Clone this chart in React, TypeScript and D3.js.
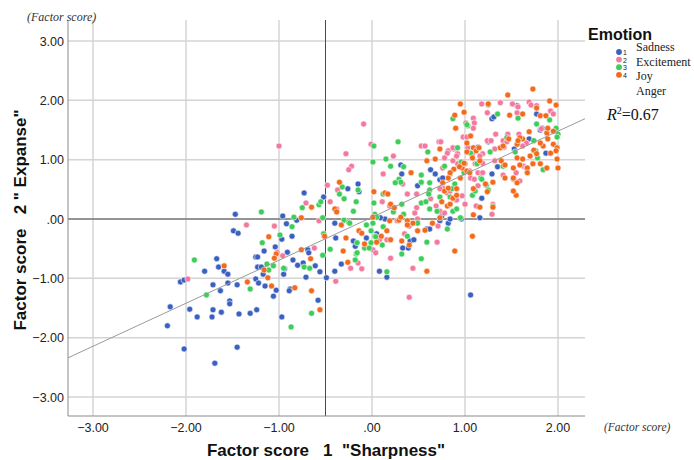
import React from 'react';
import * as d3 from 'd3';

// factor scores [F1 "Sharpness", F2 "Expanse"] per emotion
const sadness: [number, number][] = [
  [-1.47, 0.08], [-1.49, -0.2], [-1.44, -0.24], [-0.96, 0.05], [-0.92, -0.08], [-0.86, -0.29], [-0.81, -0.02],
  [-0.73, 0.44], [-0.52, 0.37], [-0.97, -0.34], [-1.04, -0.47], [-1.16, -0.54], [-1.25, -0.64], [-1.23, -0.64],
  [-1.67, -0.67], [-1.65, -0.81], [-1.8, -0.88], [-1.59, -0.88], [-1.55, -0.93], [-1.23, -0.81], [-1.19, -0.81],
  [-1.17, -0.93], [-0.91, -0.56], [-0.85, -0.69], [-0.8, -0.78], [-0.74, -0.74], [-0.69, -0.52], [-0.68, -0.57],
  [-0.61, -0.79], [-0.56, -0.89], [-0.71, -0.98], [-0.49, -0.99], [-0.95, -0.93], [-0.94, -0.84], [-1.25, -1.01],
  [-1.22, -1.08], [-1.15, -1.13], [-1.03, -1.2], [-1.06, -1.3], [-0.88, -1.18], [-0.89, -1.21], [-2.06, -1.06],
  [-2.02, -1.03], [-1.71, -1.11], [-1.63, -1.21], [-1.55, -1.08], [-1.45, -1.11], [-1.53, -1.38], [-1.53, -1.43],
  [-1.24, -1.53], [-1.31, -1.59], [-1.43, -1.6], [-1.62, -1.57], [-1.71, -1.53], [-1.72, -1.65], [-1.88, -1.65],
  [-1.96, -1.52], [-2.17, -1.48], [-2.2, -1.8], [-2.02, -2.19], [-1.45, -2.16], [-1.69, -2.43], [-0.97, -1.65],
  [-0.58, -1.37], [-0.33, -0.76], [-0.4, -0.88], [-0.4, -0.07], [-0.39, -0.32], [-0.15, 0.59], [-0.14, 0.46],
  [-0.26, 0.51], [-0.18, -0.46], [-0.2, -0.37], [0.08, -0.88], [0.16, -0.98], [0.33, -0.49], [0.39, -0.49],
  [0.59, -0.17], [0.62, -0.17], [0.73, -0.03], [0.82, -0.07], [0.96, 0.0], [0.32, 0.76], [0.31, 0.91],
  [0.63, 0.83], [0.68, 0.76], [0.49, 0.56], [0.41, -0.37], [0.14, 0.0], [0.09, 0.02], [-0.06, -0.32],
  [0.05, -0.25], [0.45, -0.35], [1.29, 1.69], [1.31, 1.72], [1.56, 1.91], [1.77, 1.77], [1.81, 1.5],
  [1.83, 1.53], [1.69, 1.35], [1.53, 1.18], [1.87, 1.11], [1.25, 1.3], [1.14, 1.21], [1.35, 0.88],
  [1.29, 0.76], [1.18, 0.35], [0.73, 0.66], [0.76, 0.69], [1.16, 0.02], [0.84, 0.0], [0.75, 0.05], [1.06, -1.28],
];

const excitement: [number, number][] = [
  [-1.35, -0.1], [-1.05, -0.12], [-1.02, -0.56], [-0.96, -0.62], [-0.62, -0.49], [-0.71, 0.27], [-0.45, 0.29],
  [-0.38, 0.17], [-0.48, 0.57], [-0.37, 0.49], [-0.39, -1.05], [-1.98, -1.01], [-0.57, -0.03], [-1.0, 1.23],
  [-0.01, 1.26], [-0.28, 1.1], [-0.22, 0.89], [-0.25, 0.83], [-0.23, -0.83], [-0.11, -0.84], [0.08, -0.35],
  [0.16, -0.35], [0.2, -0.66], [0.23, 1.06], [0.12, 0.76], [0.53, 1.23], [0.57, 1.23], [0.72, 1.3], [0.82, 1.15],
  [0.88, 1.18], [0.92, 1.1], [0.33, 0.59], [0.48, 0.42], [0.7, -0.39], [0.44, -0.83], [0.38, 0.42], [0.19, 0.22],
  [0.11, 0.29], [0.48, 0.19], [0.46, 0.1], [0.76, 0.52], [0.81, 0.44], [0.63, 0.34], [0.69, 0.22], [0.91, 0.32],
  [0.97, 0.39], [1.0, 0.25], [0.92, 0.93], [0.27, -0.03], [0.4, -0.12], [0.49, 0.0], [-0.09, 1.6], [0.01, -0.52],
  [0.04, -0.57], [0.35, -0.25], [0.4, -1.32], [-0.15, -0.74], [0.71, -0.12], [1.18, 1.94], [1.38, 1.96],
  [1.51, 1.94], [1.69, 1.97], [1.71, 1.92], [1.77, 1.91], [1.09, 1.7], [1.1, 1.62], [1.09, 1.53], [1.56, 1.79],
  [1.01, 1.62], [0.98, 1.38], [1.02, 1.38], [1.33, 1.43], [1.46, 1.43], [1.58, 1.43], [1.24, 1.32], [1.28, 1.32],
  [1.41, 1.32], [1.45, 1.3], [1.66, 1.28], [0.81, 1.11], [0.87, 1.2], [0.87, 0.98], [0.91, 1.06], [1.03, 1.2],
  [1.08, 1.1], [1.19, 1.1], [1.16, 1.06], [1.19, 0.94], [1.11, 0.93], [1.06, 0.69], [1.05, 0.81], [1.32, 0.98],
  [1.52, 0.67], [1.55, 0.78], [1.59, 0.64], [1.41, 0.74], [0.74, 1.3], [0.78, 1.03], [0.76, 0.86], [0.73, 0.51],
  [0.73, 0.13], [1.12, 0.22], [1.3, 0.25], [1.29, 0.08], [0.78, 0.1], [0.84, 0.47], [1.92, 1.82], [1.95, 1.77],
  [1.82, 1.52], [1.62, 1.23], [1.63, 0.89], [1.66, 0.86], [1.24, 1.79], [1.57, 1.89], [1.32, 1.18], [1.42, 1.21],
  [1.14, 0.78], [1.19, 0.78], [1.1, 0.67], [1.14, 0.56],
];

const joy: [number, number][] = [
  [-1.19, 0.12], [-0.84, 0.03], [-0.86, -0.13], [-0.99, -0.27], [-1.18, -0.4], [-1.13, -0.76], [-1.11, -0.86],
  [-1.06, -0.79], [-0.95, -0.83], [-0.73, -0.81], [-0.67, -0.83], [-0.53, -0.61], [-0.45, -0.51], [-0.52, -0.25],
  [-0.53, 0.02], [-0.57, 0.24], [-0.55, 0.29], [-0.75, 0.19], [-0.35, 0.42], [-0.32, 0.54], [-0.3, 0.34],
  [-1.91, -0.69], [-1.78, -1.28], [-1.31, -1.18], [-0.87, -1.82], [-0.65, -1.59], [-0.3, -0.02], [-0.25, -0.05],
  [0.02, 1.23], [0.28, 1.3], [0.01, 0.96], [0.2, 0.89], [0.34, 0.88], [0.29, 0.67], [0.31, 0.62], [0.25, 0.61],
  [0.53, 0.74], [0.53, 0.62], [0.62, 0.61], [0.62, 0.49], [0.61, 0.42], [0.78, 0.89], [0.84, 0.76], [0.92, 1.2],
  [-0.15, 0.49], [-0.17, 0.29], [-0.2, 0.13], [-0.24, -0.07], [0.02, 0.27], [0.03, 0.08], [0.05, 0.03],
  [0.12, 0.42], [0.32, 0.25], [0.34, 0.08], [0.23, 0.12], [0.53, 0.27], [0.58, 0.29], [0.62, 0.17], [0.7, 0.13],
  [0.87, 0.13], [0.91, 0.17], [0.01, -0.07], [-0.06, -0.1], [-0.01, -0.2], [0.12, -0.13], [0.03, -0.29],
  [-0.01, -0.4], [-0.08, -0.49], [-0.16, -0.4], [-0.17, -0.59], [-0.18, -0.69], [-0.03, -0.49], [0.11, -0.44],
  [0.32, -0.59], [0.53, -0.67], [0.59, -0.39], [0.16, -0.89], [0.49, -0.07], [0.81, -0.17], [0.15, 1.01],
  [0.38, -0.29], [0.04, -0.3], [-0.16, -0.57], [1.03, 1.57], [0.6, 1.13], [0.87, 1.69], [1.02, 1.59], [1.25, 1.92],
  [1.35, 1.77], [1.57, 1.7], [1.77, 1.6], [1.91, 1.67], [1.98, 1.53], [2.0, 1.43], [1.99, 1.38], [1.27, 1.13],
  [1.45, 1.37], [1.54, 1.13], [1.74, 1.32], [1.78, 1.03], [1.84, 0.83], [1.41, 0.89], [1.17, 0.69], [0.99, 0.78],
  [0.96, 0.96], [0.89, 0.59], [0.86, 0.51], [1.08, 0.4], [1.25, 0.49], [1.3, 0.22], [0.95, 0.02], [0.84, 0.37],
  [0.73, 0.37], [1.76, 1.15], [1.13, 0.93], [1.18, 0.67], [1.23, 0.57], [1.11, 0.47], [1.06, 1.11],
];

const anger: [number, number][] = [
  [-0.76, 0.02], [-0.65, 0.2], [-1.11, -0.3], [-1.03, -0.59], [-1.05, -0.66], [-1.16, -0.86], [-1.12, -0.99],
  [-1.34, -1.06], [-1.59, -0.79], [-1.08, -1.13], [-0.83, -1.16], [-0.76, -0.52], [-0.66, -0.67], [-0.65, -1.21],
  [-0.56, -1.53], [-0.51, -0.29], [-0.33, -0.1], [-0.28, -0.32], [-0.31, -0.54], [-0.26, -0.73], [-0.35, 0.62],
  [0.02, 0.46], [0.14, 0.44], [0.17, 0.42], [0.42, 0.78], [0.59, 0.98], [0.73, 1.18], [0.88, 0.84], [0.97, 0.86],
  [1.0, 0.93], [1.02, 0.81], [0.82, 0.69], [-0.4, 0.17], [-0.38, 0.12], [-0.14, -0.2], [-0.11, -0.24], [0.01, 0.03],
  [0.2, 0.25], [0.24, 0.19], [0.19, -0.03], [0.29, -0.02], [0.31, 0.03], [0.38, -0.03], [0.44, -0.07], [0.38, -0.1],
  [0.57, -0.19], [0.49, -0.2], [0.73, 0.02], [0.65, -0.07], [0.81, 0.22], [0.84, 0.25], [0.75, 0.29], [0.32, -0.37],
  [0.4, -0.44], [0.16, -0.2], [0.59, -0.88], [0.89, -0.54], [0.2, -0.35], [0.1, -0.29], [0.05, -0.39], [-0.08, -0.42],
  [0.68, 1.01], [1.08, -0.29], [1.73, 2.19], [1.46, 2.09], [0.95, 1.94], [1.25, 1.94], [1.91, 1.99], [1.98, 1.92],
  [0.99, 1.8], [0.89, 1.75], [1.48, 1.75], [1.62, 1.77], [1.81, 1.74], [1.87, 1.74], [0.9, 1.53], [1.06, 1.4],
  [1.69, 1.47], [1.88, 1.45], [1.95, 1.48], [1.95, 1.26], [1.62, 1.35], [1.56, 1.26], [1.38, 1.2], [1.47, 1.35],
  [1.02, 1.28], [1.09, 1.2], [1.12, 1.15], [1.15, 1.2], [1.02, 1.13], [1.56, 1.03], [1.62, 1.01], [1.74, 1.16],
  [1.77, 1.1], [1.99, 1.2], [1.84, 1.23], [1.92, 1.11], [1.99, 1.01], [1.39, 0.98], [1.43, 0.91], [1.59, 0.91],
  [1.67, 0.86], [1.52, 0.86], [1.81, 0.93], [1.88, 0.86], [2.0, 0.86], [1.16, 0.98], [1.08, 1.03], [0.99, 0.94],
  [0.94, 0.88], [1.43, 0.69], [1.56, 0.61], [1.55, 0.4], [1.09, 0.51], [1.22, 0.59], [1.16, 0.2], [1.09, 0.07],
  [1.3, 0.2], [0.87, 0.35], [0.91, 0.4], [0.78, 0.47], [0.82, 0.52], [0.91, 0.51], [0.76, 0.61], [0.84, 0.78],
  [0.95, 0.69], [1.77, 1.87], [1.89, 1.53], [1.59, 1.37], [1.81, 1.28], [1.89, 1.35], [1.98, 1.15], [1.7, 1.06],
  [1.73, 0.93], [1.67, 0.78], [1.57, 1.32], [1.41, 1.23], [1.05, 0.78], [1.3, 0.62], [1.52, 0.69], [1.24, 0.46],
  [1.52, 0.47],
];

const xTicks = [-3, -2, -1, 0, 1, 2];
const yTicks = [-3, -2, -1, 0, 1, 2, 3];
const fitSlope = 0.725; // linear fit, R2 = 0.67
const fitIntercept = 0.03;
const refX = -0.5;
const refY = 0;

const series = [
  { name: 'Sadness', code: '1', color: '#3a60c0', points: sadness },
  { name: 'Excitement', code: '2', color: '#f4799e', points: excitement },
  { name: 'Joy', code: '3', color: '#3ccd5a', points: joy },
  { name: 'Anger', code: '4', color: '#f36a1c', points: anger },
];

const fmt = (v: number) => (v === 0 ? '.00' : d3.format('.2f')(v));

const App = () => {
  const width = 694;
  const height = 460;
  const left = 68;
  const right = 585;
  const top = 20;
  const bottom = 416;

  const x = d3.scaleLinear().domain([-3, 2]).range([93, 558]);
  const y = d3.scaleLinear().domain([-3, 3]).range([397, 41]);
  const x0 = x.invert(left);
  const x1 = x.invert(right);

  const sans = '"Liberation Sans", Arial, sans-serif';
  const serif = '"Liberation Serif", "Times New Roman", serif';

  return (
    <svg width={width} height={height} style={{ position: 'absolute', left: 0, top: 0, background: '#fff' }}>
      {/* grid */}
      {xTicks.map((t) => (
        <line key={'gx' + t} x1={x(t)} x2={x(t)} y1={top} y2={bottom} stroke="#d4d4d4" strokeWidth={1.5} />
      ))}
      {yTicks.map((t) => (
        <line key={'gy' + t} x1={left} x2={right} y1={y(t)} y2={y(t)} stroke="#d4d4d4" strokeWidth={1.5} />
      ))}
      {/* reference lines */}
      <line x1={x(refX)} x2={x(refX)} y1={top} y2={bottom} stroke="#4a4a4a" strokeWidth={1} />
      <line x1={left} x2={right} y1={y(refY)} y2={y(refY)} stroke="#4a4a4a" strokeWidth={1} />

      {/* points */}
      {series.map((s) =>
        s.points.map((p, i) => (
          <circle key={s.code + '-' + i} cx={x(p[0])} cy={y(p[1])} r={3} fill={s.color} stroke="#fff" strokeOpacity={0.8} strokeWidth={0.7} />
        ))
      )}

      {/* fit line */}
      <line
        x1={x(x0)} y1={y(fitIntercept + fitSlope * x0)}
        x2={x(x1)} y2={y(fitIntercept + fitSlope * x1)}
        stroke="#9a9a9a" strokeWidth={1}
      />

      {/* axes */}
      <line x1={left} x2={left} y1={top} y2={bottom} stroke="#8a8a8a" strokeWidth={1} />
      <line x1={left} x2={right} y1={bottom} y2={bottom} stroke="#8a8a8a" strokeWidth={1} />

      {yTicks.map((t) => (
        <text key={'ly' + t} x={64} y={y(t) + 4.5} textAnchor="end" fontFamily={sans} fontSize={12.5} fill="#222">
          {fmt(t)}
        </text>
      ))}
      {xTicks.map((t) => (
        <text key={'lx' + t} x={x(t)} y={432} textAnchor="middle" fontFamily={sans} fontSize={12.5} fill="#222">
          {fmt(t)}
        </text>
      ))}

      <text x={27} y={21} fontFamily={serif} fontStyle="italic" fontSize={12} fill="#333">(Factor score)</text>
      <text x={604} y={431} fontFamily={serif} fontStyle="italic" fontSize={11.5} fill="#333">(Factor score)</text>

      <text x={326} y={456} textAnchor="middle" fontFamily={sans} fontWeight="bold" fontSize={17} fill="#111" style={{ whiteSpace: 'pre' }}>
        {'Factor score   1  "Sharpness"'}
      </text>
      <text transform="translate(26,220) rotate(-90)" textAnchor="middle" fontFamily={sans} fontWeight="bold" fontSize={17} fill="#111" style={{ whiteSpace: 'pre' }}>
        {'Factor score   2 " Expanse"'}
      </text>

      {/* legend */}
      <text x={588} y={40} fontFamily={sans} fontWeight="bold" fontSize={16} fill="#111">Emotion</text>
      {series.map((s, i) => (
        <g key={'lg' + s.code}>
          <circle cx={619} cy={52 + i * 7.6} r={2.9} fill={s.color} />
          <text x={623} y={55 + i * 7.6} fontFamily={sans} fontSize={7} fill="#222">{s.code}</text>
          <text x={636} y={51 + i * 14.5} fontFamily={serif} fontSize={12} fill="#222">{s.name}</text>
        </g>
      ))}

      <text x={607} y={120} fontFamily={serif} fontSize={16} fill="#111">
        <tspan fontStyle="italic">R</tspan>
        <tspan fontSize={10} dy={-6}>2</tspan>
        <tspan dy={6}>=0.67</tspan>
      </text>
    </svg>
  );
};

export default App;
